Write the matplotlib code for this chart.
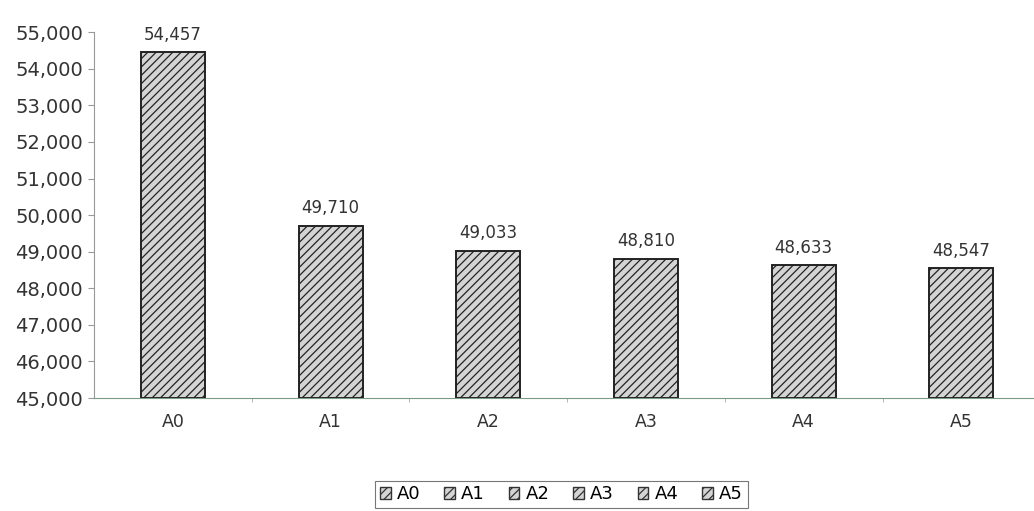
import matplotlib
matplotlib.use("Agg")
import matplotlib.pyplot as plt
from matplotlib.patches import Patch

categories = ["A0", "A1", "A2", "A3", "A4", "A5"]
values = [54457, 49710, 49033, 48810, 48633, 48547]
value_labels = ["54,457", "49,710", "49,033", "48,810", "48,633", "48,547"]
yticks = [45000, 46000, 47000, 48000, 49000, 50000, 51000, 52000, 53000, 54000, 55000]

plt.rcParams['font.family'] = ['DejaVu Sans']
plt.rcParams['hatch.color'] = '#ababab'
plt.rcParams['hatch.linewidth'] = 0.9

fig = plt.figure(figsize=(10.34, 5.11), dpi=100)
ax = fig.add_axes([0.091, 0.221, 0.915, 0.716])

x = list(range(len(categories)))
ax.bar(x, [v - 45000 for v in values], bottom=45000, width=0.405,
       color='#d4d4d4', edgecolor='#222222', linewidth=1.4, hatch='////')

for xi, v, lab in zip(x, values, value_labels):
    ax.annotate(lab, (xi, v), xytext=(0, 6), textcoords='offset points',
                ha='center', va='bottom', fontsize=12, color='#333333')

ax.set_ylim(45000, 55000)
ax.set_xlim(-0.5, 5.5)
ax.set_yticks(yticks)
ax.set_yticklabels([f"{t:,}" for t in yticks], fontsize=14, color='#333333')
ax.set_xticks(x)
ax.set_xticklabels(categories, fontsize=12.5, color='#333333')
ax.set_xticks([i + 0.5 for i in range(len(categories) - 1)], minor=True)
ax.tick_params(axis='x', which='major', length=0, pad=11)
ax.tick_params(axis='x', which='minor', length=3, color='#aaaaaa', direction='out')
ax.tick_params(axis='y', length=4, color='#999999', direction='out', pad=4)

for s in ['top', 'right']:
    ax.spines[s].set_visible(False)
ax.spines['left'].set_color('#999999')
ax.spines['bottom'].set_color('#7a9a8a')

handles = [Patch(facecolor='#d4d4d4', edgecolor='#333333', hatch='////', label=c) for c in categories]
leg = fig.legend(handles=handles, loc='center', bbox_to_anchor=(0.543, 0.033), ncol=6,
                 fontsize=13, frameon=True, fancybox=False, edgecolor='#555555',
                 handlelength=0.6, handleheight=0.6, handletextpad=0.35, columnspacing=1.3,
                 borderpad=0.25)
leg.get_frame().set_linewidth(0.8)

fig.savefig("out.png", dpi=100)
